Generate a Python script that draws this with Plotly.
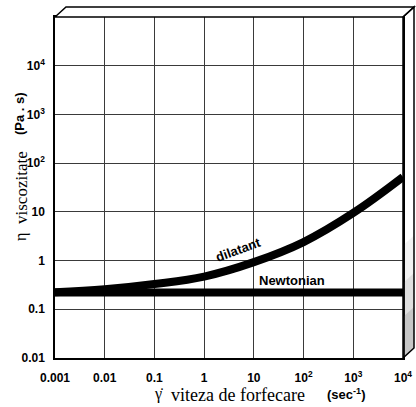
import plotly.graph_objects as go

# ---- data ----
shear_rate = [0.001, 0.01, 0.1, 1, 10, 100, 1000, 10000]
dilatant = [0.224, 0.257, 0.33, 0.47, 0.93, 2.4, 9.5, 52]
newtonian = [0.22, 0.22, 0.22, 0.22, 0.22, 0.22, 0.22, 0.22]

x_tickvals = [0.001, 0.01, 0.1, 1, 10, 100, 1000, 10000]
x_ticktext = ["0.001", "0.01", "0.1", "1", "10", "10<sup>2</sup>", "10<sup>3</sup>", "10<sup>4</sup>"]
y_tickvals = [0.01, 0.1, 1, 10, 100, 1000, 10000]
y_ticktext = ["0.01", "0.1", "1", "10", "10<sup>2</sup>", "10<sup>3</sup>", "10<sup>4</sup>"]

W, H = 416, 407
ML, MR, MT, MB = 55, 13, 17, 49
pw, ph = W - ML - MR, H - MT - MB
dx, dy = 11 / pw, 10 / ph


def px(xp):
    return (xp - ML) / pw


def py(yp):
    return (H - MB - yp) / ph


sans = "Liberation Sans"
serif = "Liberation Serif"

fig = go.Figure()
fig.add_trace(go.Scatter(x=shear_rate, y=newtonian, mode="lines",
                         line=dict(color="black", width=8), showlegend=False,
                         hoverinfo="skip"))
fig.add_trace(go.Scatter(x=shear_rate, y=dilatant, mode="lines",
                         line=dict(color="black", width=8, shape="spline", smoothing=1.1),
                         showlegend=False, hoverinfo="skip"))

axis_common = dict(type="log", showgrid=True, gridcolor="#3a3a3a", gridwidth=1,
                   showline=True, linecolor="black", linewidth=1.5, mirror=True,
                   ticks="", zeroline=False, automargin=False,
                   tickfont=dict(family=sans, size=12, color="black", weight="bold"))
fig.update_xaxes(range=[-3, 4], tickvals=x_tickvals, ticktext=x_ticktext,
                 ticklabelstandoff=8, **axis_common)
fig.update_yaxes(range=[-2, 5], tickvals=y_tickvals, ticktext=y_ticktext,
                 ticklabelstandoff=6, **axis_common)

shapes = []
# 3D frame: top strip
shapes.append(dict(type="path", xref="paper", yref="paper",
                   path=f"M 0 1 L {dx} {1+dy} L {1+dx} {1+dy} L 1 1 Z",
                   line=dict(color="black", width=1.5), fillcolor="white"))
# shaded lower part of right strip (stippled gradient approximation)
for ytop, op in [(0.33, 0.08), (0.22, 0.12), (0.12, 0.18)]:
    shapes.append(dict(type="path", xref="paper", yref="paper",
                       path=f"M 1 0 L 1 {ytop} L {1+dx} {ytop+dy} L {1+dx} {dy} Z",
                       line=dict(width=0), fillcolor=f"rgba(90,90,90,{op})"))
# right strip outline
shapes.append(dict(type="path", xref="paper", yref="paper",
                   path=f"M 1 1 L {1+dx} {1+dy} L {1+dx} {dy} L 1 0 Z",
                   line=dict(color="black", width=1.5), fillcolor="rgba(0,0,0,0)"))

C = dict(xanchor="center", yanchor="middle", showarrow=False)
annotations = [
    # curve labels (log10 coordinates on log axes)
    dict(x=0.70, y=0.22, xref="x", yref="y", text="<b>dilatant</b>",
         textangle=-20, font=dict(family=sans, size=13, color="black"), **C),
    dict(x=1.77, y=-0.41, xref="x", yref="y", text="<b>Newtonian</b>",
         font=dict(family=sans, size=13, color="black"), **C),
    # x-axis title pieces
    dict(x=px(158), y=py(394), xref="paper", yref="paper",
         text="γ̇", font=dict(family=serif, size=16, color="black"), **C),
    dict(x=px(238), y=py(395), xref="paper", yref="paper",
         text="viteza de forfecare",
         font=dict(family=serif, size=18, color="black"), **C),
    dict(x=px(346), y=py(394), xref="paper", yref="paper",
         text="<b>(sec<sup>-1</sup>)</b>",
         font=dict(family=sans, size=13, color="black"), **C),
    # y-axis title pieces
    dict(x=px(21), y=py(237), xref="paper", yref="paper",
         textangle=-90, text="η", font=dict(family=serif, size=16, color="black"), **C),
    dict(x=px(21), y=py(188), xref="paper", yref="paper",
         textangle=-90, text="viscozitate",
         font=dict(family=serif, size=17, color="black"), **C),
    dict(x=px(20), y=py(114), xref="paper", yref="paper",
         textangle=-90, text="<b>(Pa . s)</b>",
         font=dict(family=sans, size=13, color="black"), **C),
]

fig.update_layout(width=W, height=H, margin=dict(l=ML, r=MR, t=MT, b=MB),
                  paper_bgcolor="white", plot_bgcolor="white",
                  shapes=shapes, annotations=annotations, showlegend=False,
                  hovermode=False)

fig.write_html("out.html", config={"displayModeBar": False},
               post_script="document.body.style.margin='0px';document.body.style.overflow='hidden';")
